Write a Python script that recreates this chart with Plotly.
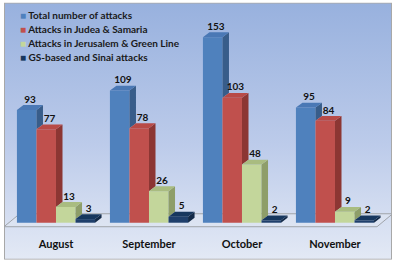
import base64
import plotly.graph_objects as go

months = ["August", "September", "October", "November"]
series_names = [
    "Total number of attacks",
    "Attacks in Judea & Samaria",
    "Attacks in Jerusalem & Green Line",
    "GS-based and Sinai attacks",
]
total = [93, 109, 153, 95]
judea_samaria = [77, 78, 103, 84]
jerusalem_green = [13, 26, 48, 9]
gs_sinai = [3, 5, 2, 2]
series_values = [total, judea_samaria, jerusalem_green, gs_sinai]

front_colors = ["#4f81bd", "#c0504d", "#c3d69b", "#1f3f6b"]
side_colors = ["#385d8a", "#8c3633", "#8e9e69", "#132a48"]
top_colors = ["#4a78b5", "#b84a47", "#a9bc80", "#17375e"]
legend_colors = ["#4f81bd", "#c0504d", "#c3d69b", "#17375e"]

W = 0.21          # bar width (category units)
DX = 0.07         # depth offset x
DY = 4.0          # depth offset y
FONT = "Lato"

xs = list(range(len(months)))
fig = go.Figure()

svg = (
    '<svg xmlns="http://www.w3.org/2000/svg" width="388" height="257" preserveAspectRatio="none">'
    '<defs><linearGradient id="g" x1="0" y1="0" x2="0" y2="1">'
    '<stop offset="0" stop-color="#98b1de"/><stop offset="0.55" stop-color="#bccbea"/>'
    '<stop offset="1" stop-color="#e3e9f5"/></linearGradient></defs>'
    '<rect x="0.5" y="0.5" width="387" height="256" fill="url(#g)" stroke="#a8a8a8" stroke-width="1"/>'
    '</svg>'
)
src = "data:image/svg+xml;base64," + base64.b64encode(svg.encode()).decode()

n = len(series_values)
for i, (name, vals) in enumerate(zip(series_names, series_values)):
    fig.add_trace(go.Bar(
        x=xs, y=vals, name=name, width=W, offset=-2 * W + i * W,
        marker=dict(color=front_colors[i], line=dict(width=0)),
        showlegend=False, hoverinfo="skip",
    ))

for i, vals in enumerate(series_values):
    sx, sy, tx, ty = [], [], [], []
    for j, v in enumerate(vals):
        xl = xs[j] - 2 * W + i * W
        xr = xl + W
        nxt = series_values[i + 1][j] if i + 1 < n else 0
        lo = min(nxt, v)
        sx += [xr, xr, xr + DX, xr + DX, xr, None]
        sy += [lo, v, v + DY, lo + DY, lo, None]
        tx += [xl, xl + DX, xr + DX, xr, xl, None]
        ty += [v, v + DY, v + DY, v, v, None]
    fig.add_trace(go.Scatter(x=sx, y=sy, fill="toself", mode="none",
                             fillcolor=side_colors[i], showlegend=False, hoverinfo="skip"))
    fig.add_trace(go.Scatter(x=tx, y=ty, fill="toself", mode="none",
                             fillcolor=top_colors[i], showlegend=False, hoverinfo="skip"))

for i, vals in enumerate(series_values):
    fig.add_trace(go.Scatter(
        x=[x - 2 * W + i * W + W / 2 + DX / 2 for x in xs],
        y=[v + DY for v in vals],
        mode="text", text=[str(v) for v in vals], textposition="top center",
        textfont=dict(family=FONT, size=10, color="#111111", weight="bold"),
        showlegend=False, hoverinfo="skip", cliponaxis=False,
    ))

# legend drawn as annotations (compact rows)
for i, name in enumerate(series_names):
    fig.add_annotation(
        xref="paper", yref="paper", x=(18 - 4) / 388, y=1 + (19.4 - (15 + 14 * i)) / 211,
        xanchor="left", yanchor="middle", showarrow=False,
        text=f"<span style='color:{legend_colors[i]}'>■</span> {name}",
        font=dict(family=FONT, size=10, color="#1a1a1a", weight="bold"),
    )

floor_path = "M -0.559,-3.3 L 3.452,-3.3 L 3.62,7.4 L -0.39,7.4 Z"
fig.add_shape(type="path", path=floor_path, xref="x", yref="y", layer="below",
              fillcolor="rgba(225,231,242,0.5)", line=dict(color="#a0a4aa", width=1))

fig.update_layout(
    width=400, height=266,
    margin=dict(l=4, r=8, t=19, b=36),
    paper_bgcolor="white", plot_bgcolor="rgba(0,0,0,0)",
    barmode="overlay",
    images=[dict(source=src, xref="paper", yref="paper", x=0, y=1.078,
                 sizex=1.0, sizey=1.078 + 0.141, xanchor="left", yanchor="top",
                 sizing="stretch", layer="below")],
    xaxis=dict(range=[-0.559, 3.613], tickmode="array", tickvals=xs, ticktext=months,
               showgrid=False, zeroline=False, showline=False, ticks="",
               tickfont=dict(family=FONT, size=11, color="#111111", weight="bold"),
               ticklabelstandoff=6),
    yaxis=dict(range=[-6, 168], visible=False, showgrid=False, zeroline=False),
    showlegend=False,
)

fig.write_html("out.html")
